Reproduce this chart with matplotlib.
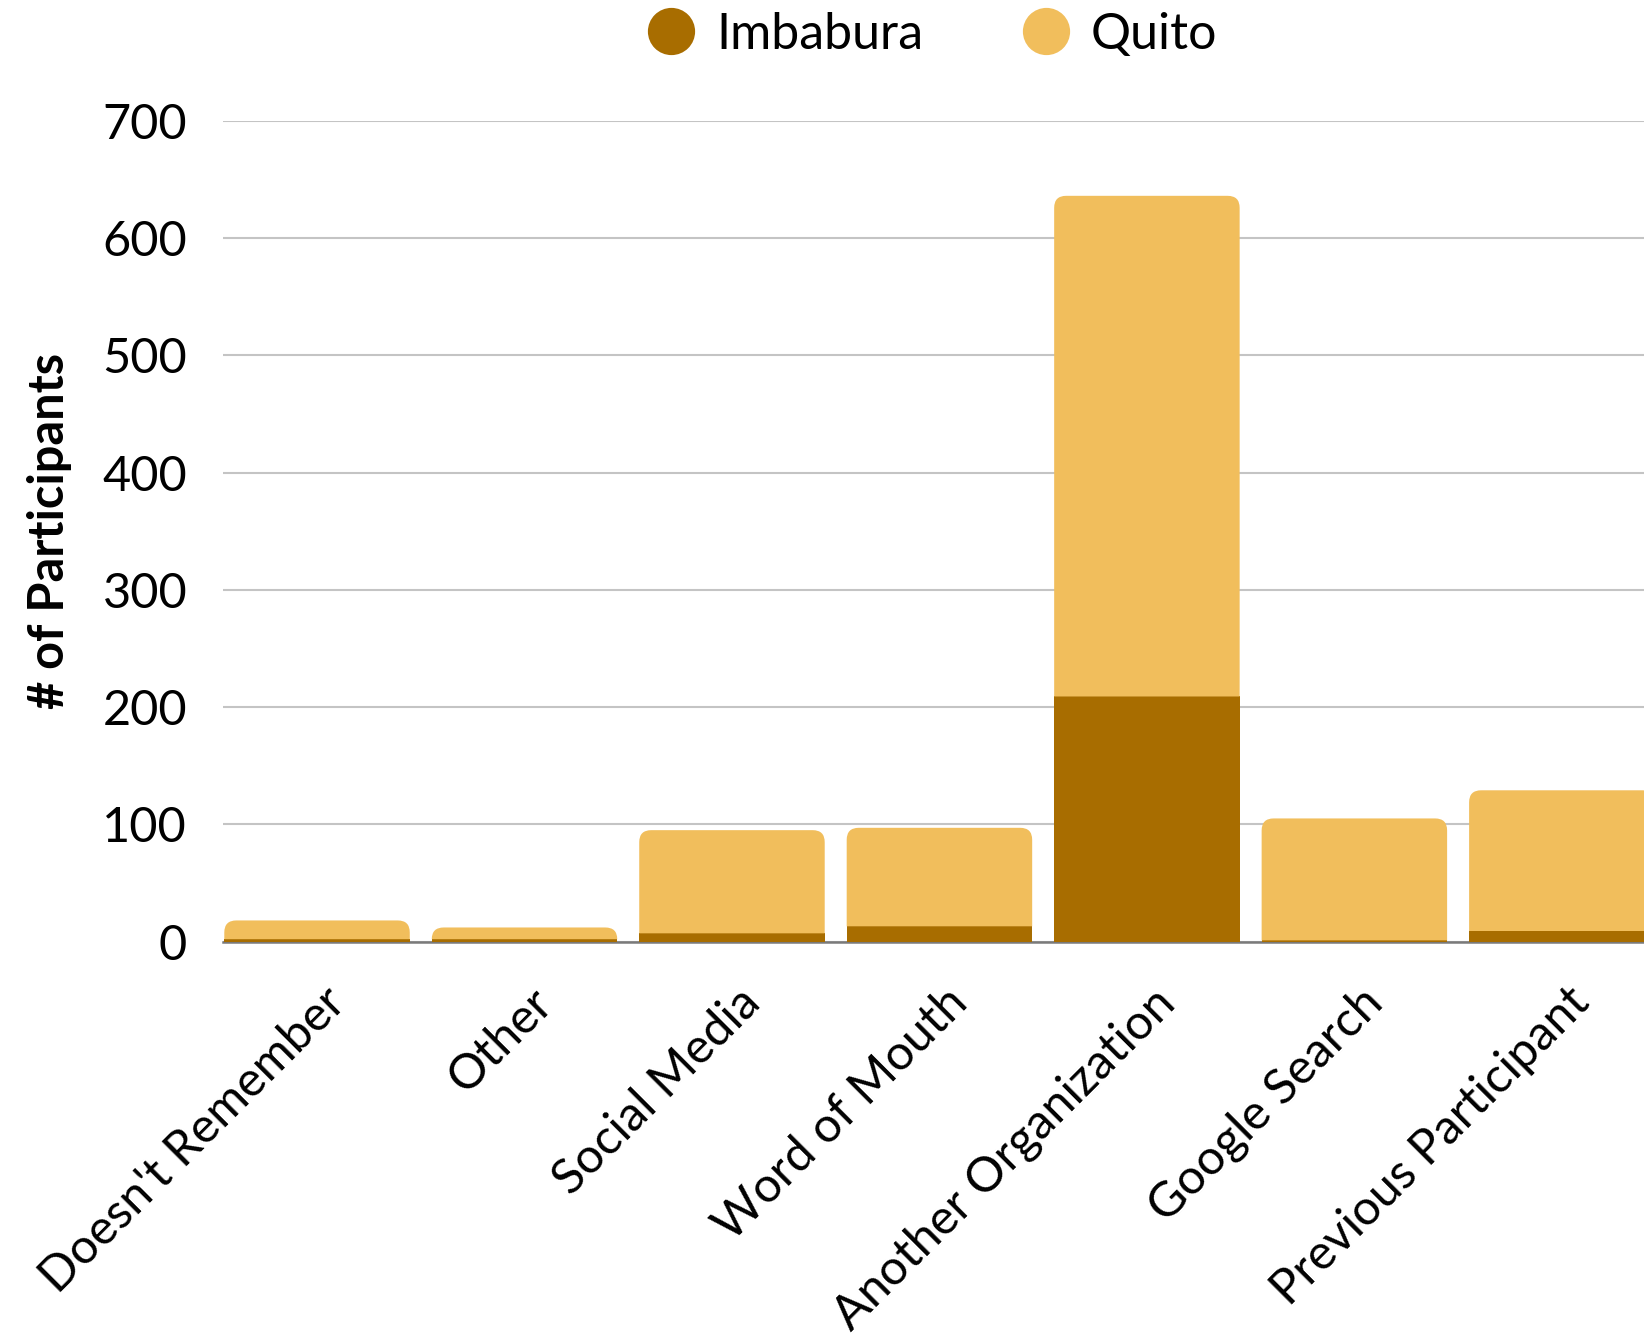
import matplotlib
matplotlib.use("Agg")
import matplotlib.pyplot as plt
from matplotlib.path import Path
from matplotlib.patches import PathPatch, Rectangle
from matplotlib.lines import Line2D
import matplotlib.transforms as mtransforms

categories = ["Doesn't Remember", "Other", "Social Media", "Word of Mouth",
              "Another Organization", "Google Search", "Previous Participant"]
imbabura = [2, 2, 7, 13, 209, 1, 9]
quito_total = [18, 12, 95, 97, 636, 105, 129]
quito = [t - i for t, i in zip(quito_total, imbabura)]
yticks = [0, 100, 200, 300, 400, 500, 600, 700]

c_imb = "#A86D00"
c_qui = "#F1BE5C"

plt.rcParams['font.family'] = ['Lato', 'DejaVu Sans']

fig = plt.figure(figsize=(16.44, 13.42), dpi=100)
ax = fig.add_axes([0.1358, 0.2984, 1 - 0.1358, 0.910 - 0.2984])
ax.set_xlim(-0.452, 6.396)
ax.set_ylim(0, 700)

width = 0.894

# px per data unit
p0 = ax.transData.transform((0, 0))
p1 = ax.transData.transform((1, 1))
pxx = p1[0] - p0[0]
pxy = p1[1] - p0[1]
r_px = 12
rx = r_px / pxx
ry0 = r_px / pxy


def rounded_top(x, bottom, height, color):
    x0 = x - width / 2
    x1 = x + width / 2
    top = bottom + height
    ry = min(ry0, height)
    verts = [(x0, bottom), (x1, bottom), (x1, top - ry), (x1, top), (x1 - rx, top),
             (x0 + rx, top), (x0, top), (x0, top - ry), (x0, bottom)]
    codes = [Path.MOVETO, Path.LINETO, Path.LINETO, Path.CURVE3, Path.CURVE3,
             Path.LINETO, Path.CURVE3, Path.CURVE3, Path.CLOSEPOLY]
    ax.add_patch(PathPatch(Path(verts, codes), facecolor=color, edgecolor='none', zorder=3))


for i, (im, q) in enumerate(zip(imbabura, quito)):
    ax.add_patch(Rectangle((i - width / 2, 0), width, im, facecolor=c_imb,
                           edgecolor='none', zorder=3))
    rounded_top(i, im, q, c_qui)

ax.set_yticks(yticks)
ax.set_yticklabels([str(v) for v in yticks], fontsize=35)
ax.tick_params(axis='y', length=0, pad=26)
ax.grid(axis='y', color='#c4c4c4', linewidth=1.5, zorder=0)
ax.set_axisbelow(True)
for s in ['top', 'right', 'left']:
    ax.spines[s].set_visible(False)
ax.spines['bottom'].set_color('#7a7a7a')
ax.spines['bottom'].set_linewidth(1.8)
ax.spines['bottom'].set_zorder(2)

ax.set_xticks(range(len(categories)))
ax.set_xticklabels(categories, fontsize=35, rotation=45, ha='right',
                   va='top', rotation_mode='anchor')
ax.tick_params(axis='x', length=0, pad=27.5)
offset = mtransforms.ScaledTranslation(5 / 100, 0, fig.dpi_scale_trans)
for lab in ax.get_xticklabels():
    lab.set_transform(lab.get_transform() + offset)

ax.set_ylabel("# of Participants", fontsize=35, fontweight='bold')
ax.yaxis.set_label_coords(-0.1063, 0.5)

handles = [Line2D([], [], marker='o', linestyle='none', markersize=34,
                  markerfacecolor=c_imb, markeredgecolor='none'),
           Line2D([], [], marker='o', linestyle='none', markersize=34,
                  markerfacecolor=c_qui, markeredgecolor='none')]
fig.legend(handles, ["Imbabura", "Quito"], loc='center', bbox_to_anchor=(0.566, 0.974),
           ncol=2, frameon=False, fontsize=36, handletextpad=0.35, columnspacing=1.9,
           handlelength=1.1)

fig.savefig("out.png", dpi=100)
